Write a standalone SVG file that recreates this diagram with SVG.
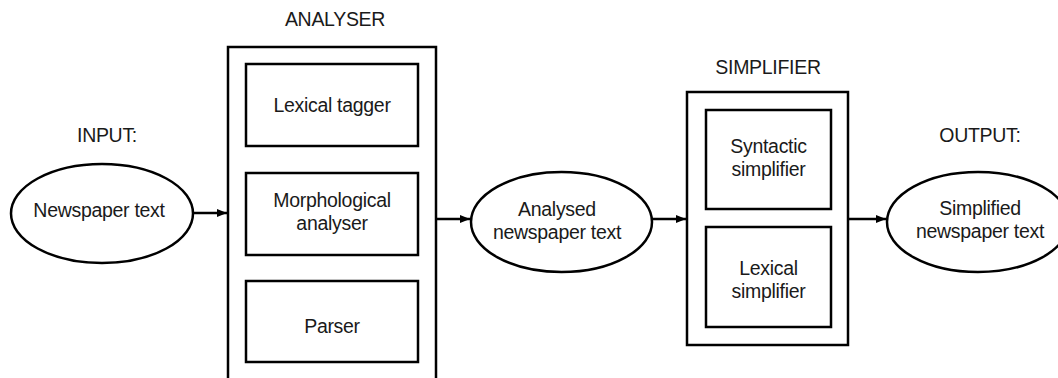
<svg xmlns="http://www.w3.org/2000/svg" width="1058" height="378" viewBox="0 0 1058 378">
  <style>
    .shape { fill: #ffffff; stroke: #000000; stroke-width: 2.5; }
    .label { font-family: "Liberation Sans", Arial, sans-serif; font-size: 19.5px; fill: #1a1a1a; text-anchor: middle; letter-spacing: -0.3px; }
    .link { stroke: #000000; stroke-width: 2.5; fill: none; }
  </style>
  <defs>
    <marker id="arrow" viewBox="0 0 10 10" refX="10" refY="5" markerWidth="4" markerHeight="4" orient="auto" markerUnits="strokeWidth">
      <path d="M0,1 L10,5 L0,9 z" fill="#000000"/>
    </marker>
  </defs>
  <rect width="1058" height="378" fill="#ffffff"/>

  <!-- Section headings -->
  <text class="label" x="107" y="142">INPUT:</text>
  <text class="label" x="335" y="26">ANALYSER</text>
  <text class="label" x="768" y="74">SIMPLIFIER</text>
  <text class="label" x="980" y="142">OUTPUT:</text>

  <!-- Input text -->
  <g id="input">
    <ellipse class="shape" cx="102" cy="213.5" rx="91" ry="49.5"/>
    <text class="label" x="99" y="217">Newspaper text</text>
  </g>

  <!-- Analyser stage -->
  <g id="analyser">
    <rect class="shape" x="228" y="47" width="208" height="340"/>
    <g id="lexical-tagger">
      <rect class="shape" x="246" y="64" width="172" height="82"/>
      <text class="label" x="332" y="112">Lexical tagger</text>
    </g>
    <g id="morphological-analyser">
      <rect class="shape" x="246" y="173" width="172" height="82"/>
      <text class="label" x="332" y="207">Morphological</text>
      <text class="label" x="332" y="230">analyser</text>
    </g>
    <g id="parser">
      <rect class="shape" x="246" y="281" width="172" height="81"/>
      <text class="label" x="332" y="333">Parser</text>
    </g>
  </g>

  <!-- Intermediate representation -->
  <g id="analysed">
    <ellipse class="shape" cx="561.5" cy="222" rx="90.5" ry="50"/>
    <text class="label" x="557" y="216">Analysed</text>
    <text class="label" x="557" y="239">newspaper text</text>
  </g>

  <!-- Simplifier stage -->
  <g id="simplifier">
    <rect class="shape" x="687" y="92" width="161" height="253"/>
    <g id="syntactic-simplifier">
      <rect class="shape" x="706" y="110" width="125" height="99"/>
      <text class="label" x="768.5" y="153">Syntactic</text>
      <text class="label" x="768.5" y="176">simplifier</text>
    </g>
    <g id="lexical-simplifier">
      <rect class="shape" x="706" y="227" width="125" height="100"/>
      <text class="label" x="768.5" y="275">Lexical</text>
      <text class="label" x="768.5" y="298">simplifier</text>
    </g>
  </g>

  <!-- Output text -->
  <g id="output">
    <ellipse class="shape" cx="978" cy="222" rx="91" ry="50"/>
    <text class="label" x="980" y="215">Simplified</text>
    <text class="label" x="980" y="238">newspaper text</text>
  </g>

  <!-- Connectors -->
  <g id="connectors">
    <line class="link" x1="193" y1="213" x2="227" y2="213" marker-end="url(#arrow)"/>
    <line class="link" x1="436" y1="219" x2="470" y2="219" marker-end="url(#arrow)"/>
    <line class="link" x1="652" y1="219" x2="686" y2="219" marker-end="url(#arrow)"/>
    <line class="link" x1="848" y1="219" x2="886" y2="219" marker-end="url(#arrow)"/>
  </g>
</svg>
